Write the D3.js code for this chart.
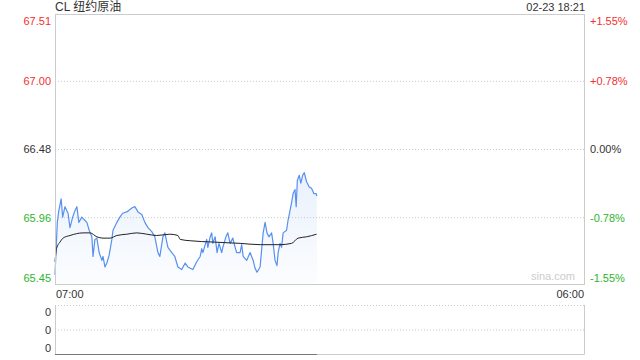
<!DOCTYPE html>
<html>
<head>
<meta charset="utf-8">
<script src="https://cdn.jsdelivr.net/npm/d3@7/dist/d3.min.js"></script>
<style>
  body { margin: 0; background: #fff; }
  svg { display: block; font-family: Arial, "Liberation Sans", "Noto Sans CJK SC", sans-serif; }
  .grid line { stroke: #ccc; stroke-dasharray: 1,2; }
  .grid .domain { display: none; }
  .ax .domain { display: none; }
  .ax text { font-size: 11px; }
</style>
</head>
<body>
<div id="canvas"></div>
<script>
// session: 07:00 -> 06:00 next day, minutes since open
var sessionMinutes = 1380;
var title = "CL 纽约原油";
var stamp = "02-23 18:21";
var timeLabels = ["07:00", "06:00"];
var prevClose = 66.48;
var priceTicks = [67.51, 67.00, 66.48, 65.96, 65.45];
var pctTicks = ["+1.55%", "+0.78%", "0.00%", "-0.78%", "-1.55%"];
var volTicks = ["0", "0", "0"];

var minutes = [0, 3, 6, 10, 16, 20, 26, 34, 39, 46, 52, 57, 62, 70, 73, 83, 89, 96, 99, 104,
  109, 115, 122, 125, 130, 135, 141, 148, 151, 161, 169, 176, 187, 200, 208, 216, 226, 234, 242, 252,
  260, 268, 273, 281, 286, 294, 304, 312, 320, 330, 339, 346, 352, 359, 369, 378, 382, 385, 395, 398,
  404, 408, 411, 417, 422, 427, 434, 437, 445, 450, 456, 463, 469, 473, 482, 486, 490, 499, 508, 512,
  516, 521, 526, 534, 538, 542, 547, 552, 557, 564, 568, 573, 578, 581, 586, 590, 594, 603, 607, 612,
  616, 620, 625, 628, 631, 636, 640, 645, 649, 655, 662, 668, 674, 680, 682];
var prices = [65.52, 65.72, 65.92, 66.01, 66.10, 65.96, 66.04, 65.99, 65.88, 65.96, 66.01, 66.04, 65.92, 65.96, 65.95, 65.92, 65.86, 65.81, 65.66, 65.79,
  65.80, 65.69, 65.63, 65.66, 65.58, 65.61, 65.67, 65.79, 65.86, 65.92, 65.96, 65.99, 66.00, 66.03, 66.04, 66.00, 65.98, 65.92, 65.88, 65.85,
  65.81, 65.69, 65.66, 65.81, 65.84, 65.73, 65.69, 65.66, 65.58, 65.56, 65.61, 65.58, 65.57, 65.56, 65.62, 65.66, 65.72, 65.69, 65.79, 65.73,
  65.81, 65.84, 65.76, 65.81, 65.69, 65.76, 65.69, 65.73, 65.81, 65.84, 65.76, 65.80, 65.73, 65.69, 65.69, 65.75, 65.66, 65.63, 65.69, 65.66,
  65.63, 65.57, 65.54, 65.58, 65.71, 65.84, 65.92, 65.84, 65.81, 65.84, 65.76, 65.63, 65.59, 65.69, 65.76, 65.73, 65.84, 65.86, 65.94, 66.01,
  66.07, 66.14, 66.17, 66.04, 66.24, 66.28, 66.22, 66.28, 66.30, 66.23, 66.19, 66.18, 66.14, 66.14, 66.12];

var avgMinutes = [0, 4, 13, 21, 39, 73, 91, 109, 125, 143, 161, 187, 213, 239, 265, 299, 320, 326, 352, 411,
  482, 534, 586, 616, 633, 655, 681];
var avgPrices = [65.62, 65.72, 65.77, 65.80, 65.82, 65.84, 65.84, 65.81, 65.80, 65.80, 65.82, 65.83, 65.84, 65.83, 65.82, 65.83, 65.82, 65.79, 65.78, 65.77,
  65.76, 65.75, 65.75, 65.76, 65.80, 65.81, 65.83];

var W = 640, H = 360;
var padL = 55, padR = 585, padT = 14, padB = 284;
var volTop = 305, volBottom = 354;
var red = "#f23030", green = "#2db52d", dark = "#333";

var svg = d3.select("#canvas").append("svg")
    .attr("width", W)
    .attr("height", H);

var x = d3.scaleLinear().domain([0, sessionMinutes]).range([padL, padR]);
var y = d3.scaleLinear().domain([priceTicks[4], priceTicks[0]]).range([padB, padT]);
var yv = d3.scaleLinear().domain([0, 2]).range([volBottom, volTop]);

function tickColor(v) {
  return v > prevClose + 1e-9 ? red : (v < prevClose - 1e-9 ? green : dark);
}
function edgeDy(i, n) {
  return i === 0 ? "0.95em" : (i === n - 1 ? "-0.2em" : "0.35em");
}

// dotted grid in the price panel
svg.append("g")
    .attr("class", "grid")
    .attr("transform", "translate(" + padL + ",0)")
    .call(d3.axisLeft(y).tickValues(priceTicks.slice(1, 4)).tickSize(-(padR - padL)).tickFormat(""));

// area under price
var grad = svg.append("defs").append("linearGradient")
    .attr("id", "fill").attr("x1", 0).attr("y1", 0).attr("x2", 0).attr("y2", 1);
grad.append("stop").attr("offset", "0%").attr("stop-color", "#5a94ef").attr("stop-opacity", 0.13);
grad.append("stop").attr("offset", "100%").attr("stop-color", "#5a94ef").attr("stop-opacity", 0.02);

var pts = minutes.map(function(m, i) { return [m, prices[i]]; });
svg.append("path")
    .datum(pts)
    .attr("fill", "url(#fill)")
    .attr("d", d3.area()
        .x(function(d) { return x(d[0]); })
        .y0(padB)
        .y1(function(d) { return y(d[1]); }));

svg.append("path")
    .datum(pts)
    .attr("fill", "none")
    .attr("stroke", "#5890ef")
    .attr("stroke-width", 1.2)
    .attr("stroke-linejoin", "round")
    .attr("d", d3.line()
        .x(function(d) { return x(d[0]); })
        .y(function(d) { return y(d[1]); }));

var avg = avgMinutes.map(function(m, i) { return [m, avgPrices[i]]; });
svg.append("path")
    .datum(avg)
    .attr("fill", "none")
    .attr("stroke", "#222")
    .attr("stroke-width", 1)
    .attr("d", d3.line()
        .curve(d3.curveMonotoneX)
        .x(function(d) { return x(d[0]); })
        .y(function(d) { return y(d[1]); }));

// frame
svg.append("rect")
    .attr("x", padL + 0.5).attr("y", padT + 0.5)
    .attr("width", padR - padL - 1).attr("height", padB - padT)
    .attr("fill", "none").attr("stroke", "#ccc");

svg.append("text")
    .attr("x", 575).attr("y", padB - 4)
    .attr("text-anchor", "end")
    .attr("fill", "#ccc")
    .style("font-size", "11px")
    .text("sina.com");

// price labels
var la = svg.append("g")
    .attr("class", "ax")
    .attr("transform", "translate(" + (padL - 4) + ",0)")
    .call(d3.axisLeft(y).tickValues(priceTicks).tickSize(0).tickPadding(0)
        .tickFormat(function(d) { return d.toFixed(2); }));
la.selectAll(".tick text")
    .attr("dy", function(d, i) { return edgeDy(i, priceTicks.length); })
    .attr("fill", function(d) { return tickColor(d); });

var ra = svg.append("g")
    .attr("class", "ax")
    .attr("transform", "translate(" + (padR + 5) + ",0)")
    .call(d3.axisRight(y).tickValues(priceTicks).tickSize(0).tickPadding(0)
        .tickFormat(function(d, i) { return pctTicks[i]; }));
ra.selectAll(".tick text")
    .attr("dy", function(d, i) { return edgeDy(i, priceTicks.length); })
    .attr("fill", function(d) { return tickColor(d); });

// header
svg.append("text")
    .attr("x", padL).attr("y", 11)
    .attr("fill", dark)
    .style("font-size", "12px")
    .text(title);
svg.append("text")
    .attr("x", padR).attr("y", 11)
    .attr("text-anchor", "end")
    .attr("fill", dark)
    .style("font-size", "11px")
    .text(stamp);

// time labels
svg.append("text")
    .attr("x", padL + 1).attr("y", 298)
    .attr("fill", dark).style("font-size", "11px")
    .text(timeLabels[0]);
svg.append("text")
    .attr("x", padR - 1).attr("y", 298)
    .attr("text-anchor", "end")
    .attr("fill", dark).style("font-size", "11px")
    .text(timeLabels[1]);

// volume panel
svg.append("g")
    .attr("class", "grid")
    .attr("transform", "translate(" + padL + ",0)")
    .call(d3.axisLeft(yv).tickValues([1, 2]).tickSize(-(padR - padL)).tickFormat(""));
svg.append("path")
    .attr("fill", "none").attr("stroke", "#ccc")
    .attr("d", "M" + (padL + 0.5) + "," + volTop + "V" + (volBottom + 0.5) + "H" + (padR - 0.5) + "V" + volTop);
// zero volume bars over the traded minutes
svg.append("line")
    .attr("x1", x(minutes[0])).attr("x2", x(minutes[minutes.length - 1]))
    .attr("y1", volBottom + 0.5).attr("y2", volBottom + 0.5)
    .attr("stroke", "#777");

var va = svg.append("g")
    .attr("class", "ax")
    .attr("transform", "translate(" + (padL - 4) + ",0)")
    .call(d3.axisLeft(yv).tickValues([2, 1, 0]).tickSize(0).tickPadding(0)
        .tickFormat(function(d, i) { return volTicks[i]; }));
va.selectAll(".tick text")
    .attr("dy", function(d, i) { return edgeDy(i, 3); })
    .attr("fill", dark);
</script>
</body>
</html>
